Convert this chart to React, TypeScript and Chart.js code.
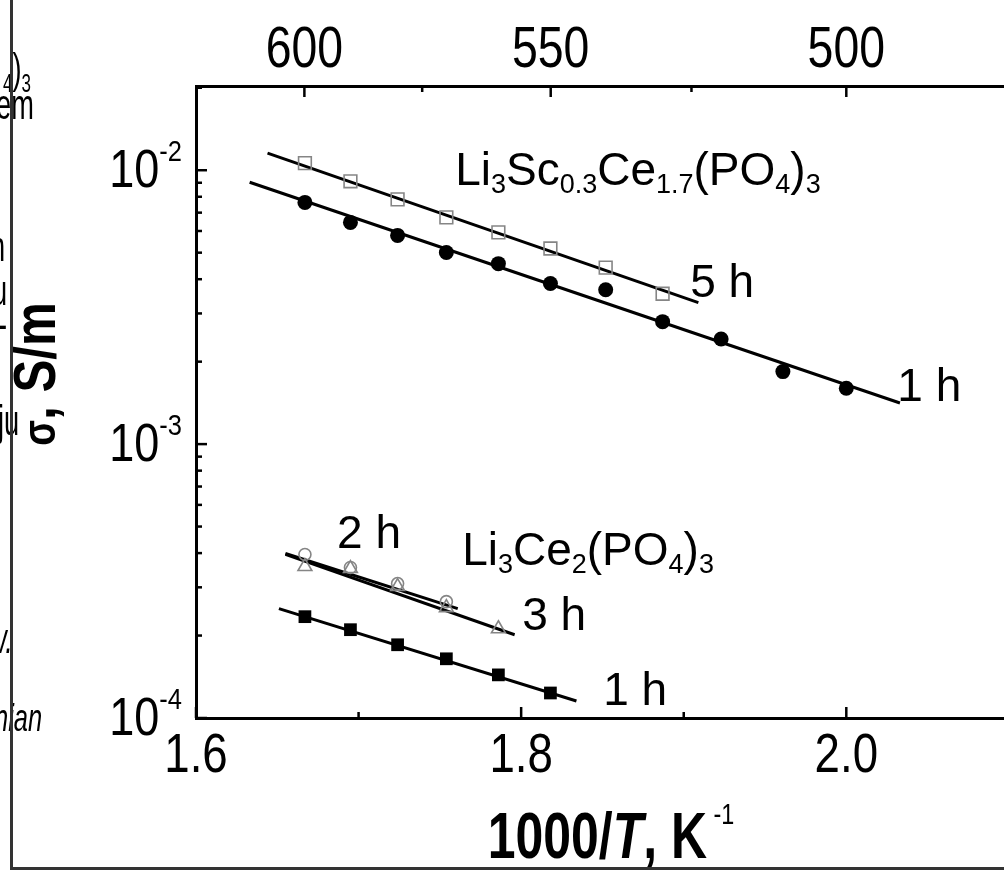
import React, { useEffect, useRef } from "react";
import { Chart, registerables } from "chart.js";

Chart.register(...registerables);

const SANS = "'Liberation Sans', Arial, Helvetica, sans-serif";

// ---- data: x = 1000/T (K^-1), y = sigma (S/m) ----
const invT_ScCe5h = [1.667, 1.695, 1.724, 1.754, 1.786, 1.818, 1.852, 1.887];
const sigma_ScCe5h = [0.01061, 0.00911, 0.00783, 0.00673, 0.00593, 0.00518, 0.00441, 0.00354];

const invT_ScCe1h = [1.667, 1.695, 1.724, 1.754, 1.786, 1.818, 1.852, 1.887, 1.923, 1.961, 2.0];
const sigma_ScCe1h = [0.00763, 0.00645, 0.00578, 0.00501, 0.00456, 0.00386, 0.00366, 0.0028, 0.00242, 0.00184, 0.0016];

const invT_Ce2h = [1.667, 1.695, 1.724, 1.754];
const sigma_Ce2h = [3.955e-4, 3.544e-4, 3.096e-4, 2.66e-4];

const invT_Ce3h = [1.667, 1.695, 1.724, 1.754, 1.786];
const sigma_Ce3h = [3.573e-4, 3.513e-4, 3.02e-4, 2.53e-4, 2.118e-4];

const invT_Ce1h = [1.667, 1.695, 1.724, 1.754, 1.786, 1.818];
const sigma_Ce1h = [2.344e-4, 2.101e-4, 1.851e-4, 1.645e-4, 1.437e-4, 1.234e-4];

// fitted straight lines (end points)
const fitX_ScCe5h = [1.644, 1.909];
const fitY_ScCe5h = [0.01154, 0.003284];
const fitX_ScCe1h = [1.633, 2.033];
const fitY_ScCe1h = [0.009036, 0.001413];
const fitX_Ce2h = [1.655, 1.761];
const fitY_Ce2h = [3.988e-4, 2.507e-4];
const fitX_Ce3h = [1.655, 1.796];
const fitY_Ce3h = [3.955e-4, 2.014e-4];
const fitX_Ce1h = [1.651, 1.834];
const fitY_Ce1h = [2.507e-4, 1.154e-4];

// ---- axes ----
const X_MIN = 1.6;
const X_MAX = 2.097;
const Y_MIN = 1e-4;
const Y_MAX = 0.0203;
const bottomTickValues = [1.6, 1.7, 1.8, 1.9, 2.0];
const bottomTickLabels = ["1.6", "", "1.8", "", "2.0"];
const topTickTemps = [600, 575, 550, 525, 500];
const topTickLabels = ["600", "", "550", "", "500"];
const yDecades = [1e-4, 1e-3, 1e-2];
const yDecadeExponents = ["-4", "-3", "-2"];

// ---- text labels (formula pieces: [text, isSubscript]) ----
const labelScCe: [string, boolean][] = [
  ["Li", false], ["3", true], ["Sc", false], ["0.3", true], ["Ce", false], ["1.7", true],
  ["(PO", false], ["4", true], [")", false], ["3", true],
];
const labelCe: [string, boolean][] = [
  ["Li", false], ["3", true], ["Ce", false], ["2", true], ["(PO", false], ["4", true], [")", false], ["3", true],
];
const annotations: { parts: [string, boolean][]; x: number; y: number }[] = [
  { parts: labelScCe, x: 1.7594, y: 0.00881 },
  { parts: [["5 h", false]], x: 1.904, y: 0.00343 },
  { parts: [["1 h", false]], x: 2.0314, y: 0.001437 },
  { parts: [["2 h", false]], x: 1.6868, y: 4.16e-4 },
  { parts: labelCe, x: 1.7637, y: 3.634e-4 },
  { parts: [["3 h", false]], x: 1.8006, y: 2.101e-4 },
  { parts: [["1 h", false]], x: 1.8505, y: 1.116e-4 },
];

type Run = { text: string; font: string; dy: number };

function drawRuns(
  ctx: CanvasRenderingContext2D,
  runs: Run[],
  x: number,
  y: number,
  align: "left" | "center" | "right",
  sx = 1
) {
  ctx.save();
  ctx.translate(x, y);
  ctx.scale(sx, 1);
  const widths = runs.map((r) => {
    ctx.font = r.font;
    return ctx.measureText(r.text).width;
  });
  const total = widths.reduce((a, b) => a + b, 0);
  let cx = align === "left" ? 0 : align === "center" ? -total / 2 : -total;
  ctx.textAlign = "left";
  ctx.textBaseline = "alphabetic";
  runs.forEach((r, i) => {
    ctx.font = r.font;
    ctx.fillText(r.text, cx, r.dy);
    cx += widths[i];
  });
  ctx.restore();
}

const decorPlugin = {
  id: "decor",
  afterDraw(chart: any) {
    const ctx: CanvasRenderingContext2D = chart.ctx;
    const xs = chart.scales.x;
    const x2 = chart.scales.x2;
    const ys = chart.scales.y;
    const a = chart.chartArea;
    ctx.save();
    ctx.strokeStyle = "#000";
    ctx.fillStyle = "#000";
    ctx.lineWidth = 2.5;
    ctx.lineCap = "butt";
    // inward ticks + labels, bottom axis
    bottomTickValues.forEach((v, i) => {
      const px = xs.getPixelForValue(v);
      const len = bottomTickLabels[i] ? 11 : 6;
      ctx.beginPath();
      ctx.moveTo(px, a.bottom);
      ctx.lineTo(px, a.bottom - len);
      ctx.stroke();
      if (bottomTickLabels[i]) {
        drawRuns(ctx, [{ text: bottomTickLabels[i], font: `55px ${SANS}`, dy: 0 }], px, a.bottom + 54, "center", 0.83);
      }
    });
    // inward ticks + labels, top axis (temperature, K)
    topTickTemps.forEach((t, i) => {
      const px = x2.getPixelForValue(1000 / t);
      const len = topTickLabels[i] ? 11 : 6;
      ctx.beginPath();
      ctx.moveTo(px, a.top);
      ctx.lineTo(px, a.top + len);
      ctx.stroke();
      if (topTickLabels[i]) {
        drawRuns(ctx, [{ text: topTickLabels[i], font: `58px ${SANS}`, dy: 0 }], px, a.top - 19, "center", 0.8);
      }
    });
    // inward ticks, y axis (log)
    yDecades.forEach((d) => {
      for (let k = 1; k <= 9; k++) {
        const v = d * k;
        if (v > Y_MAX) break;
        const py = ys.getPixelForValue(v);
        const len = k === 1 ? 11 : 6;
        ctx.beginPath();
        ctx.moveTo(a.left, py);
        ctx.lineTo(a.left + len, py);
        ctx.stroke();
      }
    });
    // y tick labels 10^n
    yDecades.forEach((d, i) => {
      const py = ys.getPixelForValue(d);
      drawRuns(
        ctx,
        [
          { text: "10", font: `53px ${SANS}`, dy: 0 },
          { text: yDecadeExponents[i], font: `30px ${SANS}`, dy: -26 },
        ],
        a.left - 14,
        py + 17,
        "right",
        0.85
      );
    });
    // annotations
    annotations.forEach((an) => {
      const px = xs.getPixelForValue(an.x);
      const py = ys.getPixelForValue(an.y);
      const runs: Run[] = an.parts.map(([t, sub]) => ({
        text: t,
        font: sub ? `27px ${SANS}` : `46px ${SANS}`,
        dy: sub ? 8 : 0,
      }));
      drawRuns(ctx, runs, px, py, "left");
    });
    // x axis title
    drawRuns(
      ctx,
      [
        { text: "1000/", font: `bold 64px ${SANS}`, dy: 0 },
        { text: "T", font: `italic bold 64px ${SANS}`, dy: 0 },
        { text: ", K", font: `bold 64px ${SANS}`, dy: 0 },
        { text: " -1", font: `30px ${SANS}`, dy: -34 },
      ],
      611,
      858,
      "center",
      0.78
    );
    // y axis title
    ctx.save();
    ctx.translate(55, 374);
    ctx.rotate(-Math.PI / 2);
    drawRuns(
      ctx,
      [
        { text: "σ", font: `bold 46px ${SANS}`, dy: 0 },
        { text: ", S/m", font: `bold 60px ${SANS}`, dy: 0 },
      ],
      0,
      0,
      "center",
      0.82
    );
    ctx.restore();
    ctx.restore();
  },
};

const pts = (xs: number[], ys: number[]) => xs.map((x, i) => ({ x, y: ys[i] }));

export default function App() {
  const canvasRef = useRef<HTMLCanvasElement | null>(null);

  useEffect(() => {
    const canvas = canvasRef.current;
    if (!canvas) return;
    const GRAY = "#858585";
    const lineDs = (label: string, xs: number[], ys: number[]) => ({
      label,
      data: pts(xs, ys),
      showLine: true,
      borderColor: "#000",
      borderWidth: 3,
      pointRadius: 0,
      order: 2,
    });
    const fitNoPad = (h: number) => (s: any) => {
      s.height = h;
      s.paddingLeft = 0;
      s.paddingRight = 0;
    };
    const chart = new Chart(canvas, {
      type: "scatter",
      data: {
        datasets: [
          {
            label: "Li3Sc0.3Ce1.7(PO4)3 5 h",
            data: pts(invT_ScCe5h, sigma_ScCe5h),
            pointStyle: "rect",
            pointRadius: 9,
            pointBackgroundColor: "rgba(255,255,255,0)",
            pointBorderColor: GRAY,
            pointBorderWidth: 1.6,
            showLine: false,
            order: 0,
          },
          {
            label: "Li3Sc0.3Ce1.7(PO4)3 1 h",
            data: pts(invT_ScCe1h, sigma_ScCe1h),
            pointStyle: "circle",
            pointRadius: 7.5,
            pointBackgroundColor: "#000",
            pointBorderColor: "#000",
            pointBorderWidth: 0,
            showLine: false,
            order: 0,
          },
          {
            label: "Li3Ce2(PO4)3 2 h",
            data: pts(invT_Ce2h, sigma_Ce2h),
            pointStyle: "circle",
            pointRadius: 6,
            pointBackgroundColor: "rgba(255,255,255,0)",
            pointBorderColor: GRAY,
            pointBorderWidth: 1.6,
            showLine: false,
            order: 0,
          },
          {
            label: "Li3Ce2(PO4)3 3 h",
            data: pts(invT_Ce3h, sigma_Ce3h),
            pointStyle: "triangle",
            pointRadius: 8,
            pointBackgroundColor: "rgba(255,255,255,0)",
            pointBorderColor: GRAY,
            pointBorderWidth: 1.6,
            showLine: false,
            order: 0,
          },
          {
            label: "Li3Ce2(PO4)3 1 h",
            data: pts(invT_Ce1h, sigma_Ce1h),
            pointStyle: "rect",
            pointRadius: 9,
            pointBackgroundColor: "#000",
            pointBorderColor: "#000",
            pointBorderWidth: 0,
            showLine: false,
            order: 0,
          },
          lineDs("fit Sc 5 h", fitX_ScCe5h, fitY_ScCe5h),
          lineDs("fit Sc 1 h", fitX_ScCe1h, fitY_ScCe1h),
          lineDs("fit Ce 2 h", fitX_Ce2h, fitY_Ce2h),
          lineDs("fit Ce 3 h", fitX_Ce3h, fitY_Ce3h),
          lineDs("fit Ce 1 h", fitX_Ce1h, fitY_Ce1h),
        ] as any,
      },
      options: {
        animation: false,
        responsive: false,
        layout: { padding: 0, autoPadding: false },
        plugins: { legend: { display: false }, tooltip: { enabled: false } },
        scales: {
          x: {
            type: "linear",
            position: "bottom",
            min: X_MIN,
            max: X_MAX,
            grid: { display: false, drawTicks: false },
            border: { display: true, width: 3, color: "#000" },
            afterBuildTicks: (s: any) => {
              s.ticks = bottomTickValues.map((v) => ({ value: v }));
            },
            afterFit: fitNoPad(153),
            ticks: { display: false },
          },
          x2: {
            type: "linear",
            position: "top",
            min: X_MIN,
            max: X_MAX,
            grid: { display: false, drawTicks: false },
            border: { display: true, width: 3, color: "#000" },
            afterBuildTicks: (s: any) => {
              s.ticks = topTickTemps.map((t) => ({ value: 1000 / t }));
            },
            afterFit: fitNoPad(86),
            ticks: { display: false },
          },
          y: {
            type: "logarithmic",
            position: "left",
            min: Y_MIN,
            max: Y_MAX,
            grid: { display: false, drawTicks: false },
            border: { display: true, width: 3, color: "#000" },
            ticks: { display: false },
            afterFit: (s: any) => {
              s.width = 196;
              s.paddingTop = 0;
              s.paddingBottom = 0;
            },
          },
        },
      } as any,
      plugins: [decorPlugin],
    });
    return () => chart.destroy();
  }, []);

  const frag: React.CSSProperties = {
    position: "absolute",
    fontFamily: SANS,
    fontSize: 32,
    color: "#000",
    whiteSpace: "nowrap",
    lineHeight: 1,
    transform: "scale(0.85, 1.3)",
    transformOrigin: "left top",
  };
  const sub: React.CSSProperties = { fontSize: 20, verticalAlign: "-0.35em" };

  return (
    <div style={{ position: "fixed", left: 0, top: 0, width: 1004, height: 871, background: "#fff", overflow: "hidden" }}>
      <canvas ref={canvasRef} width={1004} height={871} style={{ position: "absolute", left: 0, top: 0, display: "block" }} />
      <div style={{ ...frag, left: 3, top: 48 }}>
        <span style={sub}>4</span>)<span style={sub}>3</span>
      </div>
      <div style={{ ...frag, left: -4, top: 84 }}>em</div>
      <div style={{ ...frag, left: -10, top: 226 }}>n</div>
      <div style={{ ...frag, left: -8, top: 270 }}>u</div>
      <div style={{ ...frag, left: -2, top: 304 }}>-</div>
      <div style={{ ...frag, left: -2, top: 400 }}>ju</div>
      <div style={{ ...frag, left: -13, top: 618, fontStyle: "italic" }}>w.</div>
      <div style={{ ...frag, left: -6, top: 698, fontStyle: "italic", fontSize: 30 }}>nian</div>
      <div
        style={{
          position: "absolute",
          left: 10,
          top: -10,
          width: 1010,
          height: 877,
          borderLeft: "3px solid #333",
          borderBottom: "3px solid #333",
          pointerEvents: "none",
        }}
      />
    </div>
  );
}
